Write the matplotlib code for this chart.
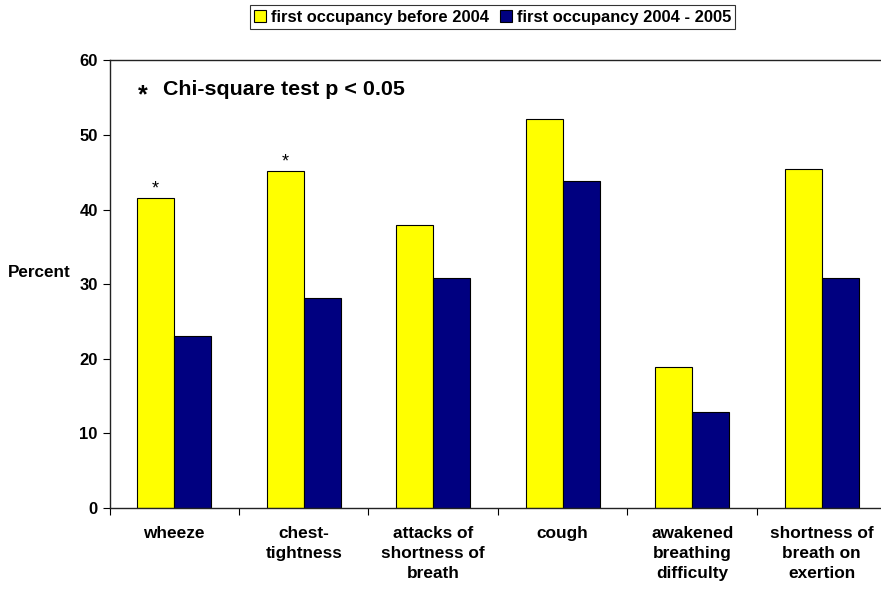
import numpy as np
import matplotlib
matplotlib.use("Agg")
import matplotlib.pyplot as plt

plt.rcParams['font.family'] = ['Liberation Sans', 'DejaVu Sans']
plt.rcParams['font.weight'] = 'bold'

# data
categories = ["wheeze", "chest-\ntightness", "attacks of\nshortness of\nbreath", "cough",
              "awakened\nbreathing\ndifficulty", "shortness of\nbreath on\nexertion"]
before_2004 = [41.5, 45.2, 37.9, 52.1, 18.9, 45.4]
occ_2004_2005 = [23.1, 28.2, 30.8, 43.8, 12.9, 30.8]
significant = [True, True, False, False, False, False]
series_labels = ["first occupancy before 2004", "first occupancy 2004 - 2005"]

fig = plt.figure(figsize=(8.81, 5.89), dpi=100)
ax = fig.add_axes([0.1243, 0.1375, 0.8757, 0.7598])

x = np.arange(len(categories))
w = 0.286
ax.bar(x - w / 2, before_2004, w, color="#FFFF00", edgecolor="black", linewidth=0.8,
       label=series_labels[0])
ax.bar(x + w / 2, occ_2004_2005, w, color="#000080", edgecolor="black", linewidth=0.8,
       label=series_labels[1])

# asterisks for significant differences
for i, sig in enumerate(significant):
    if sig:
        ax.text(x[i] - w / 2, before_2004[i] + 0.1, "*", ha="center", va="bottom",
                fontsize=13, fontweight="normal")

ax.set_ylim(0, 60)
ax.set_xlim(-0.5, 5.458)
ax.set_yticks(range(0, 61, 10))
ax.tick_params(axis="y", labelsize=12, length=5, width=0.8, direction="out")
ax.set_xticks(np.arange(-0.5, 5.5, 1.0))
ax.set_xticklabels([])
ax.tick_params(axis="x", length=5, width=0.8, direction="out")
for lab in ax.get_yticklabels():
    lab.set_fontweight("bold")

# category labels under each group
for i, c in enumerate(categories):
    ax.text(x[i], -2.45, c, ha="center", va="top", fontsize=12.4, fontweight="bold",
            linespacing=1.4)

ax.spines["right"].set_visible(False)
for s in ["left", "bottom", "top"]:
    ax.spines[s].set_linewidth(1.0)
    ax.spines[s].set_color("#222222")

fig.text(0.009, 0.537, "Percent", ha="left", va="center", fontsize=12.3, fontweight="bold")

ax.text(0.043, 0.922, "*", transform=ax.transAxes, ha="center", va="center", fontsize=18,
        fontweight="bold")
ax.text(0.069, 0.935, "Chi-square test p < 0.05", transform=ax.transAxes, ha="left",
        va="center", fontsize=15.4, fontweight="bold")

leg = fig.legend(loc="center", bbox_to_anchor=(0.559, 0.971), ncol=2,
                 frameon=True, fancybox=False, edgecolor="black", handlelength=0.7,
                 handleheight=0.7, handletextpad=0.3, columnspacing=0.7,
                 borderpad=0.25, prop={"weight": "bold", "size": 11.9})
leg.get_frame().set_linewidth(0.8)

fig.savefig("out.png", dpi=100)
